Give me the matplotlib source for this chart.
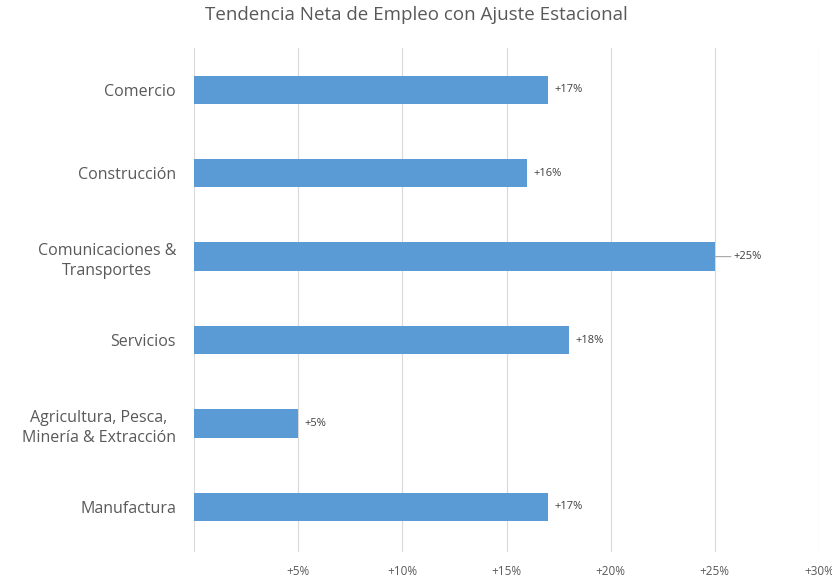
import matplotlib
matplotlib.use('Agg')
import matplotlib.pyplot as plt

# Data
categories = ['Comercio', 'Construcción', 'Comunicaciones &\nTransportes',
              'Servicios', 'Agricultura, Pesca,\nMinería & Extracción', 'Manufactura']
values = [17, 16, 25, 18, 5, 17]
xticks = [0, 5, 10, 15, 20, 25, 30]
xtick_labels = ['', '+5%', '+10%', '+15%', '+20%', '+25%', '+30%']

plt.rcParams['font.family'] = ['Open Sans', 'DejaVu Sans']

fig = plt.figure(figsize=(8.32, 5.77), dpi=100)
ax = fig.add_axes([0.2332, 0.0433, 0.7512, 0.8735])

ypos = list(range(len(categories)))
ax.barh(ypos, values, height=0.34, color='#5B9BD5', zorder=3)

# Data labels
for y, v in zip(ypos, values):
    if v == 25:
        ax.annotate(f'+{v}%', xy=(v, y), xytext=(v + 0.9, y),
                    va='center', ha='left', fontsize=8, color='#404040',
                    arrowprops=dict(arrowstyle='-', color='#A6A6A6', lw=0.8,
                                    shrinkA=0, shrinkB=0))
    else:
        ax.text(v + 0.3, y, f'+{v}%', va='center', ha='left',
                fontsize=8, color='#404040')

ax.set_ylim(5.54, -0.5)
ax.set_xlim(0, 30)
ax.set_yticks(ypos)
ax.set_yticklabels(categories, fontsize=11.5, color='#595959',
                   ha='right', multialignment='center', linespacing=1.4)
ax.tick_params(axis='y', length=0, pad=13)
ax.set_xticks(xticks)
ax.set_xticklabels(xtick_labels, fontsize=8.5, color='#595959')
ax.tick_params(axis='x', length=0, pad=9)

ax.grid(axis='x', color='#D9D9D9', linewidth=0.8, zorder=0)
for s in ax.spines.values():
    s.set_visible(False)

fig.text(0.5, 0.99, 'Tendencia Neta de Empleo con Ajuste Estacional',
         ha='center', va='top', fontsize=13.5, color='#595959')

fig.savefig('out.png', dpi=100)
